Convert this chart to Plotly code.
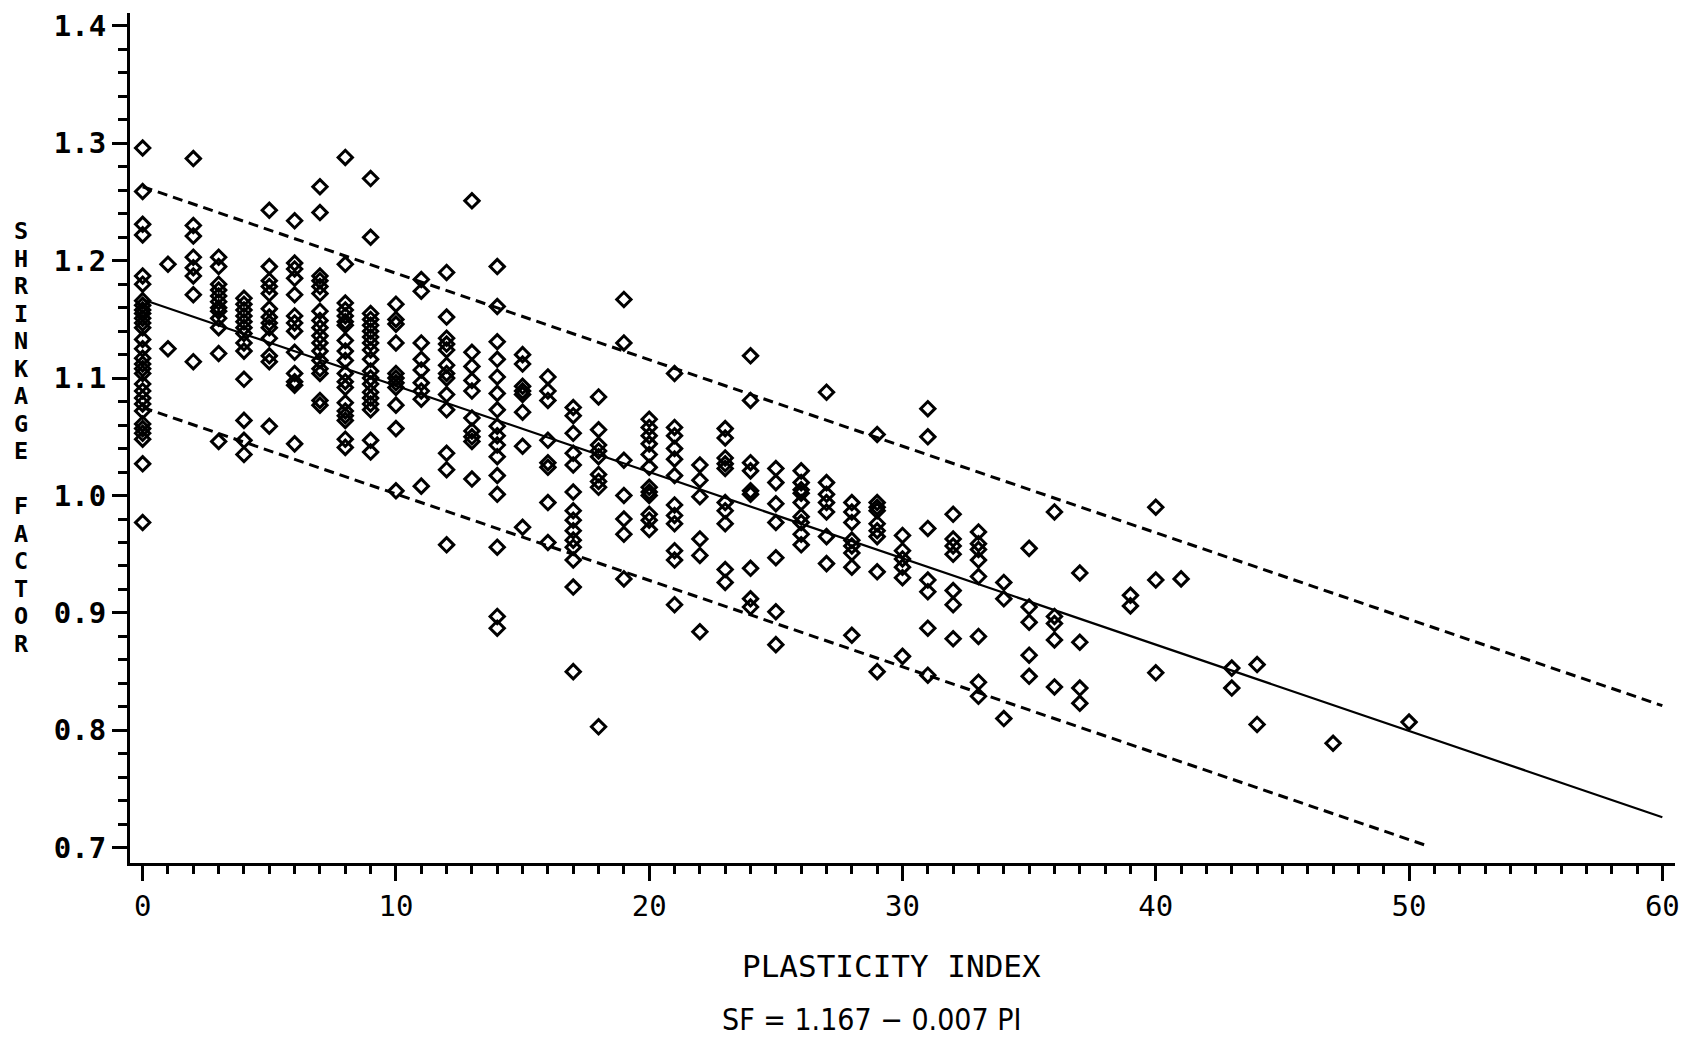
import plotly.graph_objects as go

pi_obs = (
    [0] * 30 + [1] * 2 + [2] * 8 + [3] * 12 + [4] * 13 + [5] * 13 + [6] * 13
    + [7] * 17 + [8] * 19 + [9] * 19 + [10] * 11 + [11] * 9 + [12] * 13
    + [13] * 10 + [14] * 16 + [15] * 8 + [16] * 8 + [17] * 14 + [18] * 9
    + [19] * 7 + [20] * 12 + [21] * 12 + [22] * 6 + [23] * 10 + [24] * 9
    + [25] * 7 + [26] * 9 + [27] * 7 + [28] * 8 + [29] * 9 + [30] * 6
    + [31] * 7 + [32] * 7 + [33] * 8 + [34] * 3 + [35] * 5 + [36] * 5
    + [37] * 4 + [39] * 2 + [40] * 3 + [41] * 1 + [43] * 2 + [44] * 2
    + [47] * 1 + [50] * 1
)
sf_obs = [
    1.296, 1.259, 1.231, 1.222, 1.187, 1.180, 1.166, 1.162, 1.158, 1.155, 1.151, 1.147, 1.143, 1.133, 1.125,
    1.117, 1.112, 1.108, 1.104, 1.095, 1.089, 1.083, 1.078, 1.072, 1.061, 1.057, 1.053, 1.048, 1.027, 0.977,
    1.197, 1.125,
    1.287, 1.230, 1.221, 1.203, 1.194, 1.187, 1.171, 1.114,
    1.203, 1.195, 1.180, 1.175, 1.170, 1.165, 1.160, 1.157, 1.151, 1.143, 1.121, 1.046,
    1.168, 1.163, 1.158, 1.153, 1.148, 1.143, 1.138, 1.130, 1.123, 1.099, 1.064, 1.047, 1.035,
    1.243, 1.195, 1.183, 1.178, 1.172, 1.159, 1.152, 1.147, 1.143, 1.134, 1.119, 1.114, 1.059,
    1.234, 1.198, 1.193, 1.185, 1.171, 1.153, 1.147, 1.140, 1.122, 1.104, 1.097, 1.094, 1.044,
    1.263, 1.241, 1.187, 1.183, 1.178, 1.172, 1.157, 1.149, 1.143, 1.136, 1.130, 1.123, 1.115, 1.108, 1.104,
    1.081, 1.077,
    1.288, 1.197, 1.164, 1.158, 1.153, 1.148, 1.145, 1.132, 1.123, 1.115, 1.104, 1.097, 1.092, 1.079, 1.072,
    1.068, 1.064, 1.048, 1.041,
    1.270, 1.220, 1.155, 1.150, 1.145, 1.140, 1.135, 1.130, 1.124, 1.116, 1.106, 1.100, 1.095, 1.088, 1.083,
    1.078, 1.073, 1.047, 1.037,
    1.163, 1.150, 1.146, 1.130, 1.104, 1.100, 1.096, 1.092, 1.077, 1.057, 1.004,
    1.184, 1.174, 1.130, 1.116, 1.107, 1.096, 1.089, 1.082, 1.008,
    1.190, 1.152, 1.134, 1.129, 1.124, 1.111, 1.104, 1.100, 1.086, 1.073, 1.036, 1.022, 0.958,
    1.251, 1.122, 1.110, 1.098, 1.089, 1.066, 1.055, 1.050, 1.046, 1.014,
    1.195, 1.161, 1.131, 1.116, 1.101, 1.087, 1.073, 1.059, 1.051, 1.043, 1.033, 1.017, 1.001, 0.956, 0.897,
    0.887,
    1.120, 1.112, 1.093, 1.089, 1.086, 1.071, 1.042, 0.973,
    1.101, 1.089, 1.081, 1.047, 1.028, 1.024, 0.994, 0.960,
    1.075, 1.068, 1.053, 1.036, 1.026, 1.003, 0.987, 0.979, 0.970, 0.962, 0.956, 0.945, 0.922, 0.850,
    1.084, 1.056, 1.043, 1.038, 1.033, 1.018, 1.012, 1.007, 0.803,
    1.167, 1.130, 1.030, 1.000, 0.980, 0.967, 0.929,
    1.065, 1.058, 1.051, 1.044, 1.035, 1.024, 1.007, 1.003, 1.000, 0.984, 0.979, 0.971,
    1.104, 1.058, 1.051, 1.040, 1.031, 1.017, 0.992, 0.983, 0.976, 0.953, 0.945, 0.907,
    1.026, 1.013, 0.999, 0.963, 0.949, 0.884,
    1.057, 1.049, 1.032, 1.027, 1.023, 0.994, 0.987, 0.976, 0.937, 0.926,
    1.119, 1.081, 1.028, 1.021, 1.004, 1.001, 0.938, 0.912, 0.905,
    1.023, 1.011, 0.993, 0.977, 0.947, 0.901, 0.873,
    1.021, 1.011, 1.005, 1.002, 0.994, 0.982, 0.977, 0.967, 0.958,
    1.088, 1.011, 1.001, 0.994, 0.986, 0.965, 0.942,
    0.994, 0.986, 0.977, 0.962, 0.957, 0.951, 0.939, 0.881,
    1.052, 0.994, 0.990, 0.987, 0.976, 0.970, 0.965, 0.935, 0.850,
    0.966, 0.953, 0.946, 0.939, 0.930, 0.863,
    1.074, 1.050, 0.972, 0.928, 0.918, 0.887, 0.847,
    0.984, 0.963, 0.957, 0.950, 0.919, 0.907, 0.878,
    0.969, 0.959, 0.954, 0.945, 0.931, 0.880, 0.841, 0.829,
    0.926, 0.912, 0.810,
    0.955, 0.905, 0.892, 0.864, 0.846,
    0.986, 0.897, 0.891, 0.877, 0.837,
    0.934, 0.875, 0.836, 0.823,
    0.915, 0.906,
    0.990, 0.928, 0.849,
    0.929,
    0.853, 0.836,
    0.856, 0.805,
    0.789,
    0.807,
]

# fitted line and the two dashed limits (end points as drawn)
fit_x = [0, 60]
fit_y = [1.167, 0.726]
upper_x = [0, 60]
upper_y = [1.263, 0.821]
lower_x = [0, 50.6]
lower_y = [1.075, 0.7025]

x_ticks = [0, 10, 20, 30, 40, 50, 60]
y_ticks = [0.7, 0.8, 0.9, 1.0, 1.1, 1.2, 1.3, 1.4]
y_title = "SHRINKAGE FACTOR"
x_title = "PLASTICITY INDEX"
equation = "SF = 1.167 \u2212 0.007 PI"

MONO = "DejaVu Sans Mono"

fig = go.Figure()

fig.add_trace(go.Scatter(x=upper_x, y=upper_y, mode="lines",
                         line=dict(color="black", width=3, dash="10px,6px"),
                         hoverinfo="skip"))
fig.add_trace(go.Scatter(x=lower_x, y=lower_y, mode="lines",
                         line=dict(color="black", width=3, dash="10px,6px"),
                         hoverinfo="skip"))
fig.add_trace(go.Scatter(x=fit_x, y=fit_y, mode="lines",
                         line=dict(color="black", width=2.2),
                         hoverinfo="skip"))
fig.add_trace(go.Scatter(x=pi_obs, y=sf_obs, mode="markers",
                         marker=dict(symbol="diamond-open", size=11, color="black",
                                     line=dict(color="black", width=3))))

# plot area in pixels: x 130..1675, y 9..863
L, R, T, B = 130, 1675, 9, 863
W, H = 1690, 1039


def px_to_paper(px, py):
    return (px - L) / (R - L), (B - py) / (B - T)


annotations = []
# vertical stacked letters for the y title
row = 0
for ch in y_title:
    if ch != " ":
        ax, ay = px_to_paper(21, 228.5 + row * 27.6)
        annotations.append(dict(text=ch, x=ax, y=ay, xref="paper", yref="paper",
                                showarrow=False, xanchor="center", yanchor="middle",
                                font=dict(family=MONO, size=23.5, color="black", weight="bold")))
    row += 1

ax, ay = px_to_paper(891, 966)
annotations.append(dict(text=x_title, x=ax, y=ay, xref="paper", yref="paper",
                        showarrow=False, xanchor="center", yanchor="middle",
                        font=dict(family=MONO, size=31, color="black")))
ax, ay = px_to_paper(871, 1020)
annotations.append(dict(text=equation, x=ax, y=ay, xref="paper", yref="paper",
                        showarrow=False, xanchor="center", yanchor="middle",
                        font=dict(family="Liberation Sans Narrow, DejaVu Sans Condensed, Roboto",
                                  size=30, color="black")))

fig.update_layout(
    width=W, height=H,
    margin=dict(l=L, r=W - R, t=T, b=H - B),
    plot_bgcolor="white", paper_bgcolor="white",
    showlegend=False,
    annotations=annotations,
)

fig.update_xaxes(range=[-0.5, 60.5], tickvals=x_ticks,
                 showline=True, linecolor="black", linewidth=3,
                 ticks="outside", ticklen=15, tickwidth=2.5, tickcolor="black",
                 minor=dict(dtick=1, tick0=0, ticks="outside", ticklen=8, tickwidth=2.5,
                            tickcolor="black", showgrid=False),
                 showgrid=False, zeroline=False,
                 tickfont=dict(family=MONO, size=29, color="black"))
fig.update_yaxes(range=[0.687, 1.411], tickvals=y_ticks, tickformat=".1f",
                 showline=True, linecolor="black", linewidth=3,
                 ticks="outside", ticklen=15, tickwidth=2.5, tickcolor="black",
                 minor=dict(dtick=0.02, tick0=0.7, ticks="outside", ticklen=9, tickwidth=2.5,
                            tickcolor="black", showgrid=False),
                 showgrid=False, zeroline=False,
                 tickfont=dict(family=MONO, size=29, color="black", weight="bold"))

# the page's default 8px body margin would push the figure off the window
fig.write_html("out.html",
               config={"displayModeBar": False},
               post_script="document.body.style.margin='0';document.body.style.overflow='hidden';")
